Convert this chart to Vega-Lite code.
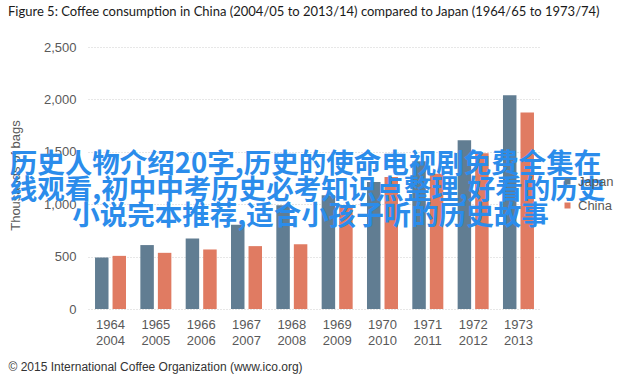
{
  "$schema": "https://vega.github.io/schema/vega-lite/v6.json",
  "autosize": {"type": "none"},
  "width": 453,
  "height": 262,
  "padding": {"left": 88, "top": 47, "right": 99, "bottom": 68},
  "background": "white",
  "config": {"view": {"stroke": null}},
  "title": {
    "text": "Figure 5: Coffee consumption in China (2004/05 to 2013/14) compared to Japan (1964/65 to 1973/74)",
    "anchor": "start",
    "frame": "group",
    "dx": -80,
    "offset": 22,
    "font": "Lato",
    "fontSize": 13,
    "fontWeight": "normal",
    "color": "#1a1a1a"
  },
  "layer": [
    {
      "data": {
        "values": [
          {"year": "1964/2004", "country": "Japan", "value": 492},
          {"year": "1964/2004", "country": "China", "value": 507},
          {"year": "1965/2005", "country": "Japan", "value": 610},
          {"year": "1965/2005", "country": "China", "value": 536},
          {"year": "1966/2006", "country": "Japan", "value": 673},
          {"year": "1966/2006", "country": "China", "value": 568},
          {"year": "1967/2007", "country": "Japan", "value": 805},
          {"year": "1967/2007", "country": "China", "value": 600},
          {"year": "1968/2008", "country": "Japan", "value": 990},
          {"year": "1968/2008", "country": "China", "value": 617},
          {"year": "1969/2009", "country": "Japan", "value": 1086},
          {"year": "1969/2009", "country": "China", "value": 990},
          {"year": "1970/2010", "country": "Japan", "value": 1212},
          {"year": "1970/2010", "country": "China", "value": 1260},
          {"year": "1971/2011", "country": "Japan", "value": 1410},
          {"year": "1971/2011", "country": "China", "value": 1290},
          {"year": "1972/2012", "country": "Japan", "value": 1610},
          {"year": "1972/2012", "country": "China", "value": 1486},
          {"year": "1973/2013", "country": "Japan", "value": 2040},
          {"year": "1973/2013", "country": "China", "value": 1875}
        ]
      },
      "mark": {"type": "bar"},
      "encoding": {
        "x": {
          "field": "year",
          "type": "nominal",
          "sort": null,
          "scale": {"paddingInner": 0.316, "paddingOuter": 0.155},
          "axis": {
            "labelExpr": "split(datum.label, '/')",
            "labelAngle": 0,
            "ticks": false,
            "domain": false,
            "labelFont": "Liberation Sans",
            "labelFontSize": 13,
            "labelColor": "#595959",
            "labelPadding": 9,
            "labelLineHeight": 16,
            "title": "© 2015 International Coffee Organization (www.ico.org)",
            "titleAnchor": "start",
            "titleAlign": "left",
            "titleBaseline": "middle",
            "titleX": -80,
            "titleY": 57,
            "titleFont": "Liberation Sans",
            "titleFontSize": 12,
            "titleFontWeight": "normal",
            "titleColor": "#333333"
          }
        },
        "xOffset": {
          "field": "country",
          "type": "nominal",
          "sort": ["Japan", "China"],
          "scale": {"paddingInner": 0.23}
        },
        "y": {
          "field": "value",
          "type": "quantitative",
          "scale": {"domain": [0, 2500], "nice": false},
          "axis": {
            "values": [0, 500, 1000, 1500, 2000, 2500],
            "format": ",.0f",
            "ticks": false,
            "domain": false,
            "labelFont": "Liberation Sans",
            "labelFontSize": 13,
            "labelColor": "#595959",
            "labelPadding": 12,
            "gridColor": "#cfcfcf",
            "gridDash": [1, 2],
            "title": "Thousands of bags",
            "titleFont": "Liberation Sans",
            "titleFontSize": 13,
            "titleFontWeight": "normal",
            "titleColor": "#595959",
            "titleX": -66,
            "titleY": 128
          }
        },
        "color": {
          "field": "country",
          "type": "nominal",
          "scale": {"domain": ["Japan", "China"], "range": ["#617d92", "#e07b62"]},
          "legend": {
            "orient": "none",
            "legendX": 473,
            "legendY": 128,
            "title": null,
            "symbolType": "square",
            "symbolSize": 36,
            "labelOffset": 4,
            "labelFont": "Liberation Sans",
            "labelFontSize": 13,
            "labelColor": "#595959",
            "rowPadding": 10
          }
        }
      }
    },
    {
      "data": {"values": [{"t": "历史人物介绍20字,历史的使命电视剧免费全集在"}]},
      "mark": {"type": "text", "font": "Noto Sans CJK SC", "fontSize": 27.5, "fontWeight": "bold", "color": "#2b8ceb", "align": "center", "baseline": "middle"},
      "encoding": {
        "text": {"field": "t"},
        "x": {"value": {"expr": "width/2 - 9"}},
        "y": {"datum": 1374}
      }
    },
    {
      "data": {"values": [{"t": "线观看,初中中考历史必考知识点整理,好看的历史"}]},
      "mark": {"type": "text", "font": "Noto Sans CJK SC", "fontSize": 27.5, "fontWeight": "bold", "color": "#2b8ceb", "align": "center", "baseline": "middle"},
      "encoding": {
        "text": {"field": "t"},
        "x": {"value": {"expr": "width/2 - 7"}},
        "y": {"datum": 1126}
      }
    },
    {
      "data": {"values": [{"t": "小说完本推荐,适合小孩子听的历史故事"}]},
      "mark": {"type": "text", "font": "Noto Sans CJK SC", "fontSize": 27.5, "fontWeight": "bold", "color": "#2b8ceb", "align": "center", "baseline": "middle"},
      "encoding": {
        "text": {"field": "t"},
        "x": {"value": {"expr": "width/2 - 4"}},
        "y": {"datum": 878}
      }
    }
  ]
}
